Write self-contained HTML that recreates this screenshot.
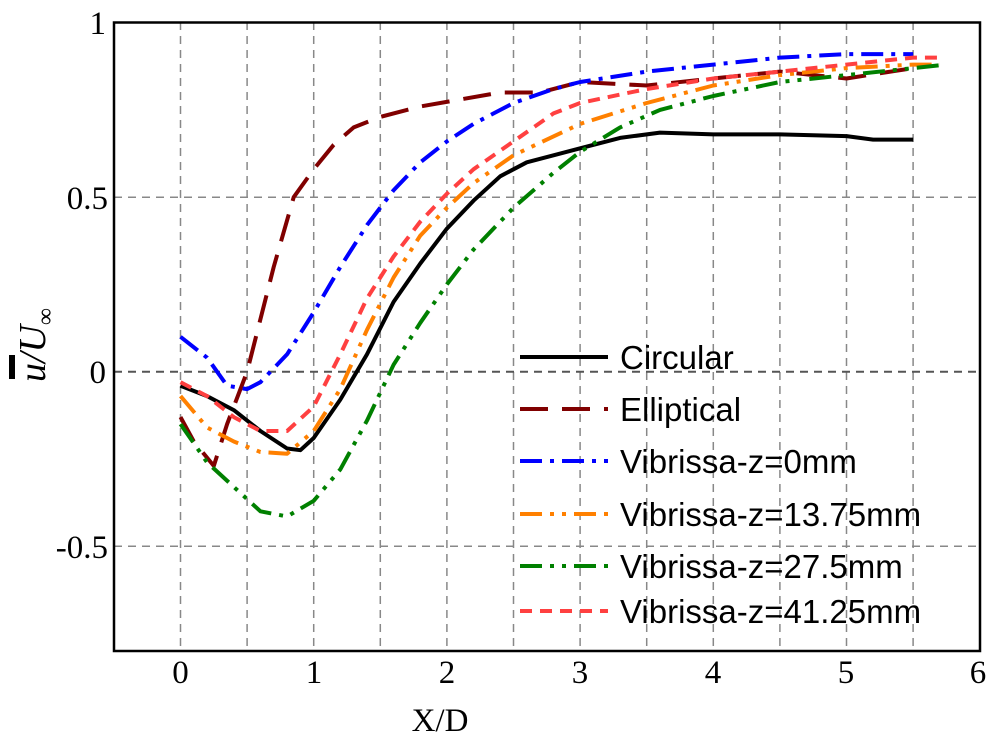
<!DOCTYPE html>
<html><head><meta charset="utf-8"><style>
html,body{margin:0;padding:0;background:#fff}
svg{display:block}
text{font-family:"Liberation Serif",serif;fill:#000}
</style></head><body>
<svg id="s" width="1000" height="749" xmlns="http://www.w3.org/2000/svg">
<rect width="1000" height="749" fill="#fff"/>
<g id="grid"></g>
<g id="curves"></g>
<rect x="114" y="22.5" width="866" height="628.5" fill="none" stroke="#000" stroke-width="2.5"/>
<g font-size="33" text-anchor="middle">
<text x="180.5" y="683">0</text><text x="314" y="683">1</text><text x="447" y="683">2</text>
<text x="580" y="683">3</text><text x="713" y="683">4</text><text x="846" y="683">5</text><text x="978" y="683">6</text>
<text x="440" y="731">X/D</text>
</g>
<g font-size="33" text-anchor="end">
<text x="106" y="34">1</text><text x="108" y="209">0.5</text><text x="106" y="383">0</text><text x="108" y="558">-0.5</text>
</g>
<g transform="translate(45,345) rotate(-90)"><text x="0" y="0" font-size="38" font-style="italic" text-anchor="middle">u/U<tspan font-size="24" font-style="normal" dy="8">∞</tspan></text></g>
<rect x="9" y="355" width="6" height="24" fill="#000"/>
<g id="legend" font-size="33"></g>
</svg>
<script>
var X=function(v){return 180.5+v*133.2},Y=function(v){return 371.7-v*349};
var g=document.getElementById('grid'),h='';
for(var v=0;v<=5.5;v+=0.5)h+='<line x1="'+X(v)+'" y1="22" x2="'+X(v)+'" y2="651" stroke="#888" stroke-width="1.5" stroke-dasharray="8,6"/>';
[0.5,-0.5].forEach(function(v){h+='<line x1="114" y1="'+Y(v)+'" x2="980" y2="'+Y(v)+'" stroke="#888" stroke-width="1.5" stroke-dasharray="8,6"/>';});
h+='<line x1="114" y1="'+Y(0)+'" x2="980" y2="'+Y(0)+'" stroke="#555" stroke-width="2" stroke-dasharray="8,6"/>';
g.innerHTML=h;
var S=[
{c:'#000',d:'none',p:[[0,-0.04],[0.2,-0.07],[0.4,-0.11],[0.6,-0.17],[0.8,-0.22],[0.9,-0.225],[1.0,-0.19],[1.2,-0.08],[1.4,0.05],[1.6,0.2],[1.8,0.31],[2,0.41],[2.2,0.49],[2.4,0.56],[2.6,0.6],[2.8,0.62],[3,0.64],[3.3,0.67],[3.6,0.685],[4,0.68],[4.5,0.68],[5,0.675],[5.2,0.665],[5.5,0.665]],n:'Circular'},
{c:'#800000',d:'28,14',p:[[0,-0.13],[0.1,-0.2],[0.25,-0.27],[0.35,-0.15],[0.5,0.0],[0.7,0.3],[0.85,0.5],[1,0.58],[1.15,0.65],[1.3,0.7],[1.5,0.73],[1.8,0.76],[2.1,0.78],[2.4,0.8],[2.7,0.8],[3,0.83],[3.5,0.82],[4,0.84],[4.5,0.86],[5,0.84],[5.5,0.87]],n:'Elliptical'},
{c:'#0000ff',d:'22,8,4,8',p:[[0,0.1],[0.2,0.04],[0.35,-0.04],[0.5,-0.05],[0.6,-0.03],[0.8,0.05],[1,0.17],[1.2,0.3],[1.4,0.42],[1.6,0.52],[1.8,0.6],[2,0.66],[2.2,0.71],[2.5,0.77],[2.8,0.81],[3,0.83],[3.5,0.86],[4,0.88],[4.5,0.9],[5,0.91],[5.5,0.91]],n:'Vibrissa-z=0mm'},
{c:'#ff8000',d:'22,8,4,8,4,8',p:[[0,-0.07],[0.2,-0.16],[0.4,-0.2],[0.6,-0.23],[0.8,-0.235],[1,-0.17],[1.2,-0.05],[1.4,0.12],[1.6,0.27],[1.8,0.39],[2,0.47],[2.2,0.54],[2.5,0.62],[3,0.71],[3.5,0.77],[4,0.82],[4.5,0.85],[5,0.87],[5.5,0.88],[5.7,0.88]],n:'Vibrissa-z=13.75mm'},
{c:'#008000',d:'22,8,4,8,4,8',p:[[0,-0.15],[0.2,-0.26],[0.4,-0.33],[0.6,-0.4],[0.8,-0.415],[1,-0.37],[1.2,-0.28],[1.4,-0.14],[1.6,0.02],[1.8,0.14],[2,0.25],[2.2,0.35],[2.5,0.47],[2.8,0.57],[3,0.63],[3.3,0.7],[3.6,0.75],[4,0.79],[4.5,0.83],[5,0.85],[5.5,0.87],[5.75,0.88]],n:'Vibrissa-z=27.5mm'},
{c:'#ff4040',d:'12,8',p:[[0,-0.03],[0.2,-0.07],[0.4,-0.13],[0.6,-0.17],[0.8,-0.17],[1,-0.1],[1.2,0.05],[1.4,0.21],[1.6,0.33],[1.8,0.43],[2,0.51],[2.2,0.58],[2.5,0.66],[2.8,0.74],[3,0.77],[3.5,0.81],[4,0.84],[4.5,0.86],[5,0.88],[5.5,0.9],[5.7,0.9]],n:'Vibrissa-z=41.25mm'}
];
var ch='',lg='',ly=[357,409,461,514,566,611];
S.forEach(function(s,i){
 var pts=s.p.map(function(q){return X(q[0]).toFixed(1)+','+Y(q[1]).toFixed(1)}).join(' ');
 var da=s.d=='none'?'':' stroke-dasharray="'+s.d+'"';
 ch+='<polyline points="'+pts+'" fill="none" stroke="'+s.c+'" stroke-width="4" stroke-linejoin="round"'+da+'/>';
});
S.forEach(function(s,i){
 var da=s.d=='none'?'':' stroke-dasharray="'+s.d+'"';
 lg+='<line x1="520" y1="'+ly[i]+'" x2="608" y2="'+ly[i]+'" stroke="'+s.c+'" stroke-width="4"'+da+'/>';
 lg+='<text x="620" y="'+(ly[i]+12)+'" style="font-family:\'Liberation Sans\',sans-serif">'+s.n+'</text>';
});
document.getElementById('curves').innerHTML=ch;
document.getElementById('legend').innerHTML=lg;
</script>
</body></html>
